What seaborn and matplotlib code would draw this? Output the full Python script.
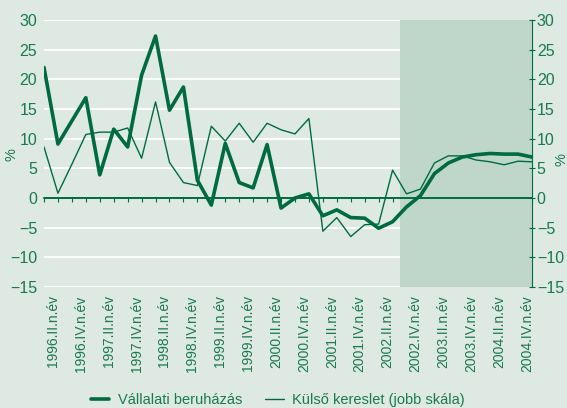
import numpy as np
import pandas as pd
import seaborn as sns
import matplotlib
matplotlib.use('Agg')
import matplotlib.pyplot as plt
from matplotlib.lines import Line2D
from matplotlib.transforms import ScaledTranslation

# quarterly data, 1996.I - 2004.IV
quarters = list(range(36))
beruhazas = [22.0, 9.1, 13.0, 16.9, 3.9, 11.6, 8.6, 20.7, 27.3, 14.8,
             18.7, 3.0, -1.2, 9.2, 2.6, 1.7, 9.0, -1.7, 0.0, 0.7,
             -3.0, -2.0, -3.3, -3.4, -5.1, -4.0, -1.5, 0.4, 4.1, 5.9,
             6.9, 7.3, 7.5, 7.4, 7.4, 6.9]
kereslet = [8.6, 0.8, 5.7, 10.7, 11.1, 11.1, 11.8, 6.7, 16.2, 6.0,
            2.6, 2.1, 12.1, 9.6, 12.6, 9.4, 12.6, 11.5, 10.8, 13.4,
            -5.6, -3.3, -6.5, -4.5, -4.4, 4.7, 0.7, 1.5, 5.9, 7.1,
            7.1, 6.4, 6.1, 5.6, 6.2, 6.1]
label_pos = [1, 3, 5, 7, 9, 11, 13, 15, 17, 19, 21, 23, 25, 27, 29, 31, 33, 35]
tick_labels = ['1996.II.n.év', '1996.IV.n.év', '1997.II.n.év', '1997.IV.n.év',
               '1998.II.n.év', '1998.IV.n.év', '1999.II.n.év', '1999.IV.n.év',
               '2000.II.n.év', '2000.IV.n.év', '2001.II.n.év', '2001.IV.n.év',
               '2002.II.n.év', '2002.IV.n.év', '2003.II.n.év', '2003.IV.n.év',
               '2004.II.n.év', '2004.IV.n.év']
forecast_start = 25.5
yticks = [-15, -10, -5, 0, 5, 10, 15, 20, 25, 30]

bg = '#dde9e2'
shade = '#bed7ca'
line_c = '#006b3f'
text_c = '#1b7a4d'

sns.set_style('white', {'axes.facecolor': bg, 'figure.facecolor': bg})
plt.rcParams['font.family'] = ['Liberation Sans', 'DejaVu Sans']

df = pd.DataFrame({'q': quarters, 'beruhazas': beruhazas, 'kereslet': kereslet})

fig = plt.figure(figsize=(5.67, 4.08), dpi=100)
ax = fig.add_axes([44 / 567, 1 - 287 / 408, (532 - 44) / 567, (287 - 20) / 408])
ax.set_facecolor(bg)

for y in yticks:
    if y != 0:
        ax.axhline(y, color='white', lw=1.3, zorder=0.5)
ax.axvspan(forecast_start, 35, color=shade, lw=0, zorder=1)
ax.axhline(0, color=line_c, lw=1.2, zorder=2)

sns.lineplot(data=df, x='q', y='beruhazas', ax=ax, color=line_c, lw=2.6, zorder=3)

ax2 = ax.twinx()
sns.lineplot(data=df, x='q', y='kereslet', ax=ax2, color=line_c, lw=1.0, zorder=3)

for a in (ax, ax2):
    a.set_xlim(0, 35)
    a.set_ylim(-15, 30)
    a.set_yticks(yticks)
    a.set_xlabel('')
    a.set_ylabel('')
    for s in a.spines.values():
        s.set_visible(False)

# ticks on the zero line
ax.spines['bottom'].set_visible(True)
ax.spines['bottom'].set_position(('data', 0))
ax.spines['bottom'].set_color(line_c)
ax.spines['bottom'].set_linewidth(1.2)
ax.set_xticks(quarters)
ax.tick_params(axis='x', bottom=True, direction='out', length=3, color=line_c,
               labelbottom=False)
ax.tick_params(axis='y', length=0, labelsize=11.5, labelcolor=text_c, pad=5)

sec = ax.secondary_xaxis(0)
sec.set_xticks(label_pos, tick_labels, rotation=90, fontsize=10, color=text_c)
sec.tick_params(length=0, pad=6)
sec.spines['bottom'].set_visible(False)
shift = ScaledTranslation(-5 / 100, 0, fig.dpi_scale_trans)
for lbl in sec.get_xticklabels():
    lbl.set_transform(lbl.get_transform() + shift)

ax2.spines['right'].set_visible(True)
ax2.spines['right'].set_color(line_c)
ax2.tick_params(axis='y', direction='inout', length=5, color=line_c,
                labelsize=11.5, labelcolor=text_c, pad=1)

fig.text(12 / 567, 1 - 155 / 408, '%', rotation=90, color=text_c, fontsize=10.5,
         ha='center', va='center')
fig.text(561 / 567, 1 - 160 / 408, '%', rotation=90, color=text_c, fontsize=10.5,
         ha='center', va='center')

handles = [Line2D([], [], color=line_c, lw=2.6), Line2D([], [], color=line_c, lw=1.0)]
fig.legend(handles, ['Vállalati beruházás', 'Külső kereslet (jobb skála)'],
           loc='center', bbox_to_anchor=(0.49, 8 / 408), ncol=2, frameon=False,
           fontsize=10.5, labelcolor=text_c, handlelength=1.25, handletextpad=0.6,
           columnspacing=1.6, borderpad=0)

fig.savefig('out.png', dpi=100, facecolor=bg)
